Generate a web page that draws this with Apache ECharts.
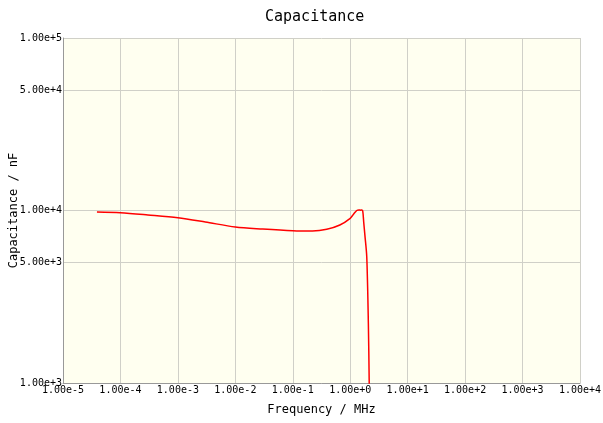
<!DOCTYPE html>
<html>
<head>
<meta charset="utf-8">
<script src="https://cdn.jsdelivr.net/npm/echarts@6/dist/echarts.min.js"></script>
<style>
  html, body { margin: 0; padding: 0; background: #fff; }
  #chart { width: 603px; height: 423px; }
</style>
</head>
<body>
<div id="chart"></div>
<script>
// 频率 (MHz) 和 电容 (nF)
const freqs = [3.9e-5, 1e-4, 3e-4, 1e-3, 3e-3, 1e-2, 3e-2, 1e-1, 0.22, 0.39, 0.66, 1.0, 1.15, 1.3, 1.42, 1.5, 1.58, 1.65, 1.72, 1.8, 1.94, 2.07, 2.15];
const caps = [9800, 9700, 9420, 9080, 8580, 8020, 7810, 7640, 7610, 7780, 8240, 9010, 9550, 10000, 10080, 10050, 10070, 9950, 8500, 7200, 5400, 2200, 900];
const yTicks = [1000, 5000, 10000, 50000, 100000];

const font = "DejaVu Sans Mono";
const chart = echarts.init(document.getElementById("chart"));

const option = {
  animation: false,
  title: {
    text: "Capacitance",
    left: 260,
    top: 5,
    textStyle: { fontFamily: font, fontSize: 15, fontWeight: "normal", color: "#000" },
  },
  grid: {
    left: 63,
    right: 23,
    top: 38,
    bottom: 40,
    containLabel: false,
    outerBoundsMode: "none",
    show: true,
    backgroundColor: "#fffff0",
    borderWidth: 0,
  },
  xAxis: {
    type: "log",
    logBase: 10,
    min: 1e-5,
    max: 1e4,
    splitNumber: 9,
    name: "Frequency / MHz",
    nameLocation: "middle",
    nameGap: 21,
    nameMoveOverlap: false,
    nameTextStyle: { fontFamily: font, fontSize: 12, color: "#000" },
    axisLine: { lineStyle: { color: "#999", width: 1 } },
    axisTick: { show: false },
    axisLabel: {
      fontFamily: font,
      fontSize: 10,
      color: "#000",
      margin: 2,
      showMinLabel: true,
      showMaxLabel: true,
      formatter: (v) => Number(v).toExponential(2),
    },
    splitLine: { show: true, lineStyle: { color: "#d0d0c8", width: 1 } },
  },
  yAxis: {
    type: "log",
    logBase: 10,
    min: 1000,
    max: 100000,
    name: "Capacitance / nF",
    nameLocation: "middle",
    nameGap: 43,
    nameMoveOverlap: false,
    nameTextStyle: { fontFamily: font, fontSize: 12, color: "#000" },
    axisLine: { show: true, lineStyle: { color: "#999", width: 1 } },
    axisTick: { show: false, customValues: yTicks },
    axisLabel: {
      fontFamily: font,
      fontSize: 10,
      color: "#000",
      margin: 1,
      customValues: yTicks,
      formatter: (v) => Number(v).toExponential(2),
    },
    splitLine: { show: true, lineStyle: { color: "#d0d0c8", width: 1 } },
  },
  series: [
    {
      type: "line",
      data: freqs.map((f, i) => [f, caps[i]]),
      showSymbol: false,
      smooth: 0.3,
      lineStyle: { color: "#ff0000", width: 1.5 },
      clip: true,
    },
  ],
};

chart.setOption(option);
</script>
</body>
</html>
